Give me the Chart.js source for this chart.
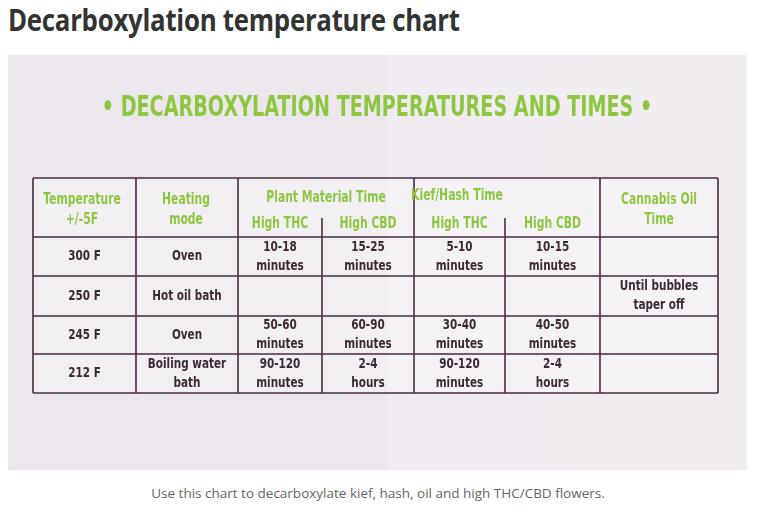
<!DOCTYPE html>
<html><head><meta charset="utf-8">
<script src="https://cdn.jsdelivr.net/npm/chart.js@4"></script>
<style>
  body { margin:0; width:773px; height:514px; background:#fff; position:relative; font-family:'Open Sans', sans-serif; overflow:hidden; }
  h1 { position:absolute; left:8px; top:-1px; margin:0; font-size:30px; font-weight:700; color:#333; letter-spacing:-0.3px; transform:scaleX(0.86); transform-origin:left top; }
  #panel { position:absolute; left:8px; top:55px; width:739px; height:415px;
    background:linear-gradient(90deg,#ebe7ec 0%,#ebe7ec 51%,#efebf0 51.5%,#f1edf1 100%); }
  .cap { position:absolute; left:0; width:756px; top:484px; text-align:center; font-size:13.5px; color:#666; }
</style></head>
<body>
<h1>Decarboxylation temperature chart</h1>
<div id="panel"><canvas id="c"></canvas></div>
<div class="cap">Use this chart to decarboxylate kief, hash, oil and high THC/CBD flowers.</div>
<script>
// table content
const temperatures = ['300 F', '250 F', '245 F', '212 F'];
const heatingModes = ['Oven', 'Hot oil bath', 'Oven', 'Boiling water\nbath'];
const plantTHC = ['10-18\nminutes', '', '50-60\nminutes', '90-120\nminutes'];
const plantCBD = ['15-25\nminutes', '', '60-90\nminutes', '2-4\nhours'];
const kiefTHC = ['5-10\nminutes', '', '30-40\nminutes', '90-120\nminutes'];
const kiefCBD = ['10-15\nminutes', '', '40-50\nminutes', '2-4\nhours'];
const oilTime = ['', 'Until bubbles\ntaper off', '', ''];
const headers = ['Temperature\n+/-5F', 'Heating\nmode', 'Plant Material Time', 'Kief/Hash Time', 'Cannabis Oil\nTime'];
const subHeaders = ['High THC', 'High CBD', 'High THC', 'High CBD'];
const heading = '• DECARBOXYLATION TEMPERATURES AND TIMES •';

// grid edges in panel units
const colEdges = [25, 128, 230, 314, 406, 497, 592, 710];
const rowEdges = [123, 182, 221, 261, 299, 338];

const columns = [temperatures, heatingModes, plantTHC, plantCBD, kiefTHC, kiefCBD, oilTime];
const cells = [];
columns.forEach((col, c) => col.forEach((t, r) => {
  cells.push({ x: (colEdges[c] + colEdges[c + 1]) / 2, y: (rowEdges[r + 1] + rowEdges[r + 2]) / 2, t: t });
}));

const FONT = "'DejaVu Sans', sans-serif";
const LINE = '#4a2b42';

const tablePlugin = {
  id: 'table',
  afterDatasetsDraw(chart) {
    const ctx = chart.ctx, xs = chart.scales.x, ys = chart.scales.y;
    const X = v => xs.getPixelForValue(v), Y = v => ys.getPixelForValue(v);
    // condensed look: squeeze the glyphs horizontally
    const text = (s, x, y, size, color, squeeze) => {
      const k = squeeze || 0.72;
      ctx.save();
      ctx.font = 'bold ' + size + 'px ' + FONT;
      ctx.fillStyle = color;
      ctx.textAlign = 'center'; ctx.textBaseline = 'middle';
      ctx.translate(x, 0); ctx.scale(k, 1);
      const lines = s.split('\n');
      lines.forEach((l, i) => ctx.fillText(l, 0, y + (i - (lines.length - 1) / 2) * size * 1.3));
      ctx.restore();
    };
    ctx.save();
    text(heading, X(369), Y(53), 29, '#8dc63f', 0.66);
    ctx.fillStyle = 'rgba(255,255,255,0.35)';
    ctx.fillRect(X(colEdges[0]), Y(rowEdges[0]), X(colEdges[7]) - X(colEdges[0]), Y(rowEdges[5]) - Y(rowEdges[0]));
    ctx.strokeStyle = LINE; ctx.lineWidth = 1.6;
    ctx.beginPath();
    rowEdges.forEach(r => { ctx.moveTo(X(colEdges[0]), Y(r)); ctx.lineTo(X(colEdges[7]), Y(r)); });
    [0, 1, 2, 4, 6, 7].forEach(i => { ctx.moveTo(X(colEdges[i]), Y(rowEdges[0])); ctx.lineTo(X(colEdges[i]), Y(rowEdges[5])); });
    [3, 5].forEach(i => { ctx.moveTo(X(colEdges[i]), Y(163)); ctx.lineTo(X(colEdges[i]), Y(rowEdges[5])); });
    ctx.stroke();
    const green = '#8dc63f';
    text(headers[0], X(74), Y(155), 15, green);
    text(headers[1], X(178), Y(155), 15, green);
    text(headers[2], X(318), Y(143), 15, green);
    text(headers[3], X(449), Y(141), 15, green);
    text(headers[4], X(651), Y(155), 15, green);
    subHeaders.forEach((s, i) => text(s, X((colEdges[i + 2] + colEdges[i + 3]) / 2), Y(169), 15, green));
    chart.data.datasets[0].data.forEach(p => { if (p.t) text(p.t, X(p.x), Y(p.y), 14.5, '#3b2a36'); });
    ctx.restore();
  }
};

new Chart(document.getElementById('c'), {
  type: 'scatter',
  data: { datasets: [{ data: cells, pointRadius: 0 }] },
  options: {
    responsive: true, maintainAspectRatio: false, animation: false,
    layout: { padding: 0 },
    plugins: { legend: { display: false }, tooltip: { enabled: false } },
    scales: {
      x: { type: 'linear', min: 0, max: 739, display: false },
      y: { type: 'linear', min: 0, max: 415, reverse: true, display: false }
    }
  },
  plugins: [tablePlugin]
});
</script>
</body></html>
